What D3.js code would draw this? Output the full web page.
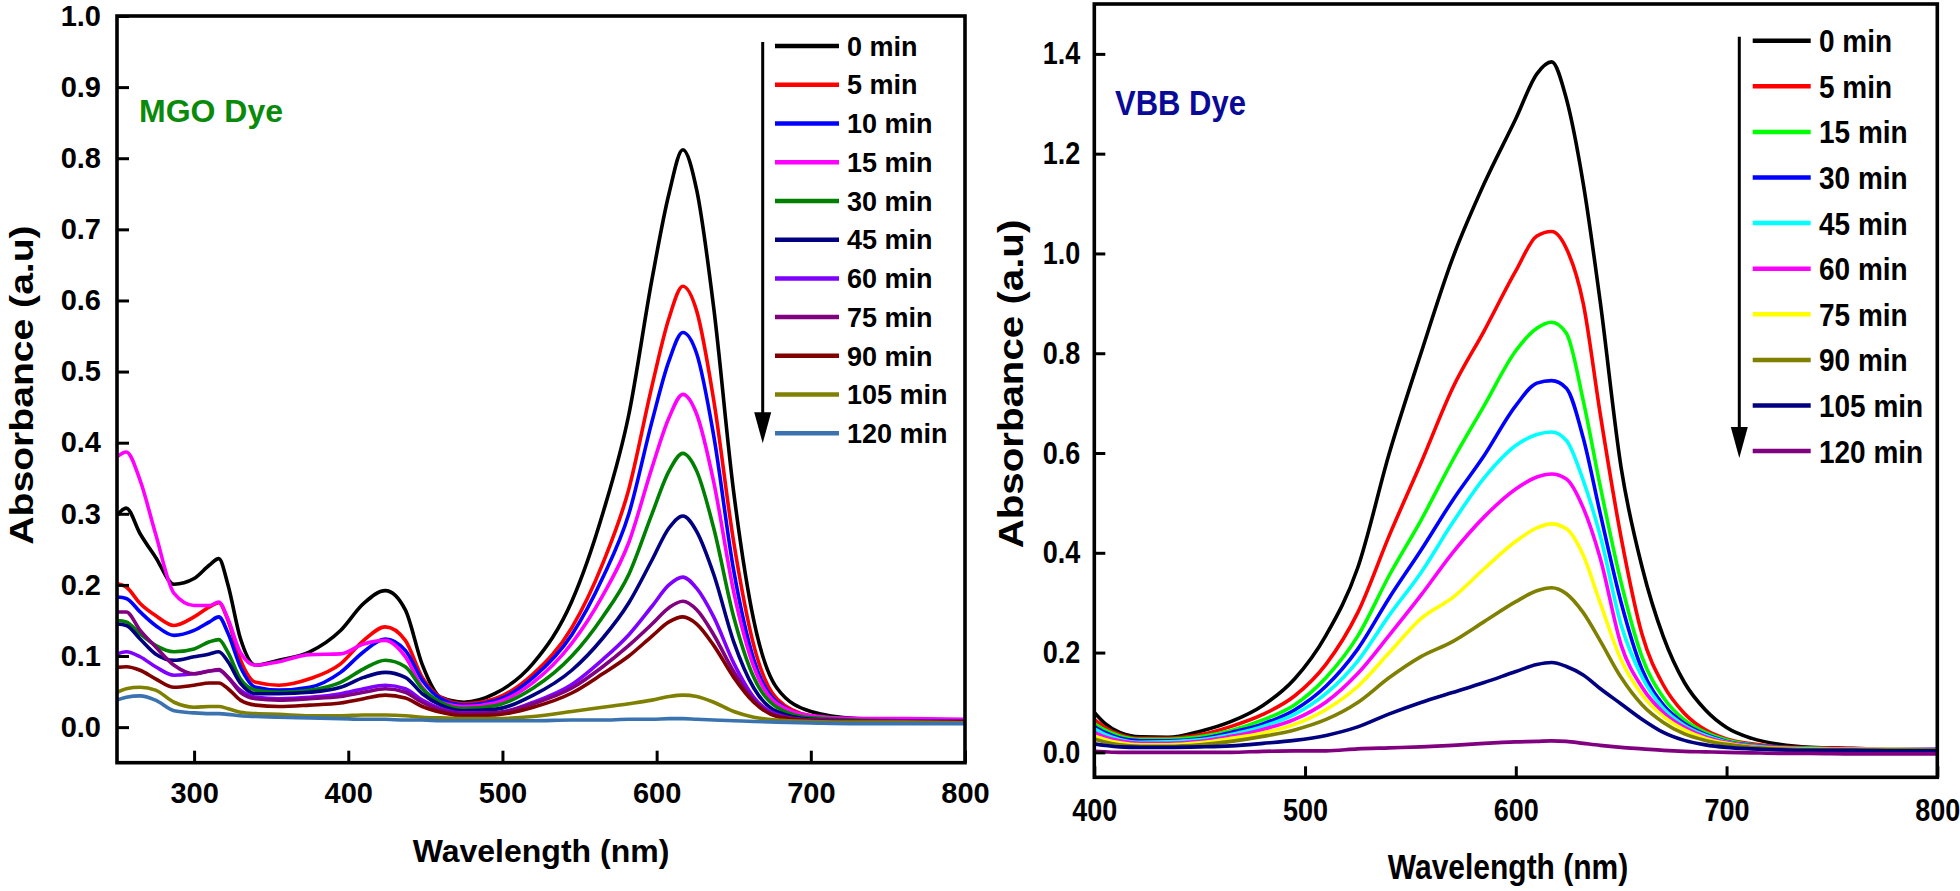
<html><head>
<script src="https://d3js.org/d3.v7.min.js"></script>
<style>
body { margin: 0; background: #fff; }
text { font-family: "Liberation Sans", Arial, sans-serif; font-weight: bold; fill: #000; }
.axis .domain { display: none; }
.axis line { stroke: #000; stroke-width: 3; }
.stretch { transform-box: fill-box; transform-origin: center; transform: scaleY(1.15); }
.stretchX { transform-box: fill-box; transform-origin: center; transform: scaleX(1.15); }
</style>
</head>
<body>
<svg id="chart" width="1960" height="891"></svg>
<script>
// ---------- MGO dye (left panel) ----------
const mgoWl = [250,256,265,275,287,300,310,316,322,330,340,355,375,395,410,424,437,448,460,475,
               495,520,545,565,582,597,608,617,626,637,650,663,678,700,730,760,800];
const mgoLabels = ["0 min","5 min","10 min","15 min","30 min","45 min","60 min","75 min","90 min","105 min","120 min"];
const mgoColors = ["#000000","#ff0000","#0000ff","#ff00ff","#008000","#000080","#8000ff","#800080","#800000","#808000","#3a73b0"];
const mgo0   = [0.298,0.308,0.272,0.239,0.201,0.209,0.228,0.237,0.200,0.125,0.087,0.094,0.106,0.136,0.174,0.192,0.165,0.088,0.042,0.035,
                0.047,0.090,0.177,0.300,0.440,0.630,0.750,0.812,0.755,0.590,0.330,0.150,0.055,0.022,0.012,0.010,0.009];
const mgo5   = [0.202,0.197,0.174,0.157,0.143,0.155,0.169,0.175,0.150,0.095,0.063,0.059,0.068,0.089,0.122,0.141,0.122,0.070,0.042,0.033,
                0.040,0.075,0.140,0.230,0.335,0.480,0.575,0.620,0.585,0.460,0.260,0.115,0.040,0.016,0.011,0.010,0.009];
const mgo10  = [0.183,0.181,0.162,0.143,0.129,0.136,0.148,0.155,0.132,0.085,0.056,0.052,0.056,0.077,0.106,0.124,0.108,0.066,0.040,0.031,
                0.037,0.070,0.130,0.210,0.300,0.430,0.515,0.555,0.525,0.410,0.220,0.095,0.035,0.015,0.011,0.010,0.009];
const mgo15  = [0.380,0.387,0.347,0.272,0.188,0.171,0.171,0.176,0.152,0.105,0.087,0.092,0.102,0.103,0.117,0.122,0.099,0.056,0.035,0.029,
                0.034,0.063,0.118,0.185,0.260,0.365,0.435,0.468,0.440,0.345,0.190,0.085,0.033,0.016,0.012,0.012,0.011];
const mgo30  = [0.150,0.148,0.131,0.115,0.106,0.110,0.120,0.123,0.105,0.068,0.052,0.049,0.052,0.063,0.082,0.094,0.085,0.054,0.035,0.026,
                0.030,0.055,0.100,0.155,0.215,0.300,0.360,0.385,0.360,0.280,0.155,0.070,0.028,0.013,0.010,0.009,0.008];
const mgo45  = [0.145,0.143,0.124,0.103,0.094,0.099,0.103,0.106,0.092,0.062,0.047,0.047,0.049,0.056,0.070,0.077,0.070,0.047,0.031,0.023,
                0.025,0.045,0.080,0.125,0.175,0.235,0.280,0.297,0.275,0.215,0.120,0.055,0.022,0.011,0.009,0.008,0.008];
const mgo60  = [0.103,0.106,0.099,0.085,0.073,0.075,0.079,0.080,0.070,0.052,0.042,0.040,0.042,0.047,0.054,0.059,0.054,0.038,0.026,0.020,
                0.020,0.035,0.060,0.095,0.130,0.170,0.200,0.211,0.195,0.155,0.090,0.042,0.018,0.010,0.009,0.009,0.008];
const mgo75  = [0.162,0.162,0.136,0.113,0.087,0.075,0.079,0.081,0.070,0.049,0.040,0.038,0.040,0.043,0.049,0.054,0.049,0.035,0.024,0.019,
                0.020,0.033,0.055,0.085,0.115,0.145,0.168,0.177,0.165,0.130,0.078,0.038,0.016,0.010,0.009,0.008,0.008];
const mgo90  = [0.084,0.085,0.080,0.068,0.056,0.059,0.062,0.062,0.054,0.038,0.031,0.029,0.031,0.034,0.040,0.045,0.041,0.029,0.021,0.016,
                0.017,0.028,0.048,0.075,0.100,0.128,0.148,0.155,0.145,0.115,0.070,0.035,0.015,0.009,0.008,0.008,0.007];
const mgo105 = [0.049,0.054,0.056,0.052,0.035,0.028,0.029,0.029,0.026,0.021,0.019,0.018,0.016,0.016,0.017,0.017,0.016,0.014,0.013,0.012,
                0.012,0.015,0.022,0.028,0.033,0.038,0.043,0.045,0.043,0.035,0.022,0.014,0.010,0.008,0.007,0.007,0.006];
const mgo120 = [0.038,0.042,0.044,0.038,0.023,0.020,0.019,0.019,0.018,0.016,0.015,0.014,0.013,0.012,0.011,0.011,0.010,0.010,0.009,0.009,
                0.009,0.009,0.010,0.010,0.011,0.011,0.012,0.012,0.011,0.010,0.009,0.008,0.007,0.006,0.005,0.005,0.005];
const mgoValues = [mgo0,mgo5,mgo10,mgo15,mgo30,mgo45,mgo60,mgo75,mgo90,mgo105,mgo120];

// ---------- VBB dye (right panel) ----------
const vbbWl = [400,405,412,422,435,450,465,480,495,510,525,540,555,570,585,600,610,617,624,632,640,650,660,670,680,690,700,712,725,740,760,780,800];
const vbbLabels = ["0 min","5 min","15 min","30 min","45 min","60 min","75 min","90 min","105 min","120 min"];
const vbbColors = ["#000000","#ff0000","#00ff00","#0000ff","#00ffff","#ff00ff","#ffff00","#808000","#000080","#800080"];
const vbb0   = [0.080,0.058,0.040,0.031,0.030,0.042,0.062,0.094,0.147,0.235,0.370,0.600,0.800,0.990,1.140,1.270,1.360,1.384,1.310,1.140,0.905,0.570,0.370,0.232,0.140,0.085,0.050,0.028,0.016,0.010,0.008,0.006,0.005];
const vbb5   = [0.066,0.050,0.036,0.028,0.028,0.035,0.052,0.076,0.113,0.177,0.280,0.435,0.580,0.730,0.845,0.965,1.035,1.044,1.010,0.900,0.680,0.430,0.235,0.135,0.078,0.045,0.027,0.017,0.011,0.009,0.007,0.006,0.005];
const vbb15  = [0.058,0.045,0.033,0.026,0.026,0.031,0.044,0.065,0.095,0.150,0.233,0.355,0.465,0.585,0.695,0.805,0.850,0.862,0.840,0.705,0.535,0.340,0.190,0.110,0.065,0.040,0.025,0.015,0.010,0.008,0.007,0.006,0.005];
const vbb30  = [0.052,0.040,0.029,0.023,0.023,0.027,0.040,0.057,0.085,0.133,0.207,0.310,0.405,0.505,0.595,0.695,0.740,0.745,0.730,0.630,0.480,0.300,0.165,0.095,0.058,0.036,0.022,0.014,0.010,0.008,0.007,0.006,0.006];
const vbb45  = [0.047,0.036,0.026,0.020,0.021,0.025,0.036,0.052,0.076,0.118,0.183,0.275,0.360,0.460,0.550,0.615,0.637,0.642,0.625,0.545,0.435,0.255,0.150,0.088,0.054,0.034,0.021,0.013,0.009,0.008,0.007,0.007,0.006];
const vbb60  = [0.040,0.031,0.023,0.018,0.018,0.022,0.032,0.046,0.066,0.101,0.158,0.235,0.315,0.400,0.472,0.528,0.552,0.558,0.548,0.490,0.390,0.215,0.130,0.080,0.050,0.031,0.020,0.012,0.009,0.007,0.007,0.006,0.006];
const vbb75  = [0.033,0.026,0.019,0.015,0.015,0.019,0.028,0.039,0.056,0.086,0.132,0.200,0.268,0.310,0.368,0.423,0.450,0.458,0.448,0.395,0.300,0.185,0.115,0.072,0.045,0.028,0.018,0.011,0.008,0.007,0.006,0.006,0.005];
const vbb90  = [0.027,0.021,0.015,0.012,0.012,0.015,0.022,0.032,0.045,0.066,0.100,0.150,0.192,0.222,0.262,0.302,0.324,0.330,0.318,0.280,0.224,0.150,0.095,0.060,0.037,0.024,0.016,0.010,0.007,0.006,0.005,0.005,0.005];
const vbb105 = [0.017,0.014,0.011,0.010,0.010,0.011,0.013,0.018,0.024,0.034,0.051,0.077,0.100,0.120,0.140,0.162,0.176,0.180,0.172,0.155,0.128,0.097,0.066,0.040,0.024,0.015,0.010,0.007,0.005,0.004,0.004,0.003,0.003];
const vbb120 = [0.002,0.001,0.000,0.000,0.000,0.000,0.000,0.002,0.003,0.003,0.007,0.009,0.011,0.014,0.018,0.021,0.022,0.023,0.022,0.018,0.014,0.010,0.007,0.004,0.002,0.001,0.000,-0.001,-0.002,-0.002,-0.003,-0.003,-0.003];
const vbbValues = [vbb0,vbb5,vbb15,vbb30,vbb45,vbb60,vbb75,vbb90,vbb105,vbb120];

// ticks
const mgoXTicks = [300,400,500,600,700,800];
const mgoYTicks = [0,0.1,0.2,0.3,0.4,0.5,0.6,0.7,0.8,0.9,1.0];
const vbbXTicks = [400,500,600,700,800];
const vbbYTicks = [0,0.2,0.4,0.6,0.8,1.0,1.2,1.4];

let svg = d3.select("#chart");

function drawPanel(p) {
  const x = d3.scaleLinear().domain(p.xDomain).range([p.left, p.right]);
  const y = d3.scaleLinear().domain(p.yDomain).range([p.bottom, p.top]);
  const g = svg.append("g");
  const cls = p.stretch ? "stretch" : null;

  g.append("clipPath").attr("id", p.id + "clip")
   .append("rect").attr("x", p.left).attr("y", p.top)
   .attr("width", p.right - p.left).attr("height", p.bottom - p.top);

  const line = d3.line().x(d => x(d[0])).y(d => y(d[1])).curve(d3.curveMonotoneX);

  p.values.forEach((vals, i) => {
    g.append("path")
     .datum(p.wl.map((w, j) => [w, vals[j]]))
     .attr("d", line)
     .attr("fill", "none")
     .attr("stroke", p.colors[i])
     .attr("stroke-width", 3.6)
     .attr("stroke-linejoin", "round")
     .attr("clip-path", "url(#" + p.id + "clip)");
  });

  // axes (ticks pointing inwards)
  let yAxis = g.append("g").attr("class", "axis")
    .attr("transform", "translate(" + p.left + ",0)")
    .call(d3.axisLeft(y).tickValues(p.yTicks).tickFormat(d3.format(".1f")).tickSize(-p.tick).tickPadding(p.yPad));
  yAxis.selectAll("text").style("font-size", p.tickFont + "px").attr("class", cls);

  let xAxis = g.append("g").attr("class", "axis")
    .attr("transform", "translate(0," + p.bottom + ")")
    .call(d3.axisBottom(x).tickValues(p.xTicks).tickFormat(d3.format("d")).tickSize(-p.tick).tickPadding(p.xPad));
  xAxis.selectAll("text").style("font-size", p.tickFont + "px").attr("class", cls);

  // frame
  g.append("rect")
   .attr("x", p.left).attr("y", p.top)
   .attr("width", p.right - p.left).attr("height", p.bottom - p.top)
   .attr("fill", "none").attr("stroke", "#000").attr("stroke-width", 3.6);

  // axis titles
  g.append("text").attr("class", cls)
   .attr("x", p.xTitle[0]).attr("y", p.xTitle[1])
   .attr("text-anchor", "middle").style("font-size", p.xTitleFont + "px")
   .text("Wavelength (nm)");

  g.append("g").attr("transform", "translate(" + p.yTitle[0] + "," + p.yTitle[1] + ") rotate(-90)")
   .append("text").attr("class", p.yStretch ? "stretchX" : null)
   .attr("text-anchor", "middle").style("font-size", p.yTitleFont + "px")
   .text("Absorbance (a.u)");

  // dye name
  g.append("text").attr("class", cls)
   .attr("x", p.name[0]).attr("y", p.name[1])
   .style("font-size", p.nameFont + "px").style("fill", p.nameColor)
   .text(p.nameText);

  // legend
  const lg = p.legend;
  p.labels.forEach((lab, i) => {
    const ly = lg.y0 + i * lg.step;
    g.append("line").attr("x1", lg.x1).attr("x2", lg.x2).attr("y1", ly).attr("y2", ly)
     .attr("stroke", p.colors[i]).attr("stroke-width", 4.5);
    g.append("text").attr("class", cls)
     .attr("x", lg.tx).attr("y", ly).attr("dy", "0.36em")
     .style("font-size", lg.font + "px").text(lab);
  });
  const aTop = lg.y0 - 4, aTip = lg.y0 + (p.labels.length - 1) * lg.step + lg.tipExtra;
  g.append("line").attr("x1", lg.ax).attr("x2", lg.ax).attr("y1", aTop).attr("y2", aTip - 20)
   .attr("stroke", "#000").attr("stroke-width", 3);
  g.append("path")
   .attr("d", "M" + (lg.ax - 8.5) + "," + (aTip - 31) + "L" + (lg.ax + 8.5) + "," + (aTip - 31) + "L" + lg.ax + "," + aTip + "Z")
   .attr("fill", "#000");
}

drawPanel({
  id: "mgo", wl: mgoWl, values: mgoValues, colors: mgoColors, labels: mgoLabels,
  xDomain: [250, 800], yDomain: [-0.05, 1.0],
  left: 117, right: 965, top: 16, bottom: 762.7,
  xTicks: mgoXTicks, yTicks: mgoYTicks, tick: 12, tickFont: 29, yPad: 16, xPad: 20,
  xTitle: [541, 862], xTitleFont: 32,
  yTitle: [33, 385], yTitleFont: 34, yStretch: true,
  name: [139, 122], nameFont: 32, nameColor: "#0a8a0a", nameText: "MGO Dye",
  legend: { y0: 46, step: 38.73, x1: 775, x2: 839, tx: 847, font: 27, ax: 762.7, tipExtra: 10 },
  stretch: false
});

drawPanel({
  id: "vbb", wl: vbbWl, values: vbbValues, colors: vbbColors, labels: vbbLabels,
  xDomain: [400, 800], yDomain: [-0.05, 1.5],
  left: 1094.3, right: 1937.3, top: 4, bottom: 777.3,
  xTicks: vbbXTicks, yTicks: vbbYTicks, tick: 11, tickFont: 27, yPad: 14, xPad: 23,
  xTitle: [1508, 877], xTitleFont: 30,
  yTitle: [1023, 384], yTitleFont: 35, yStretch: true,
  name: [1115, 113], nameFont: 31, nameColor: "#0a0a99", nameText: "VBB Dye",
  legend: { y0: 40.7, step: 45.6, x1: 1752.7, x2: 1810.7, tx: 1819, font: 28, ax: 1739.3, tipExtra: 7 },
  stretch: true
});
</script>
</body>
</html>
